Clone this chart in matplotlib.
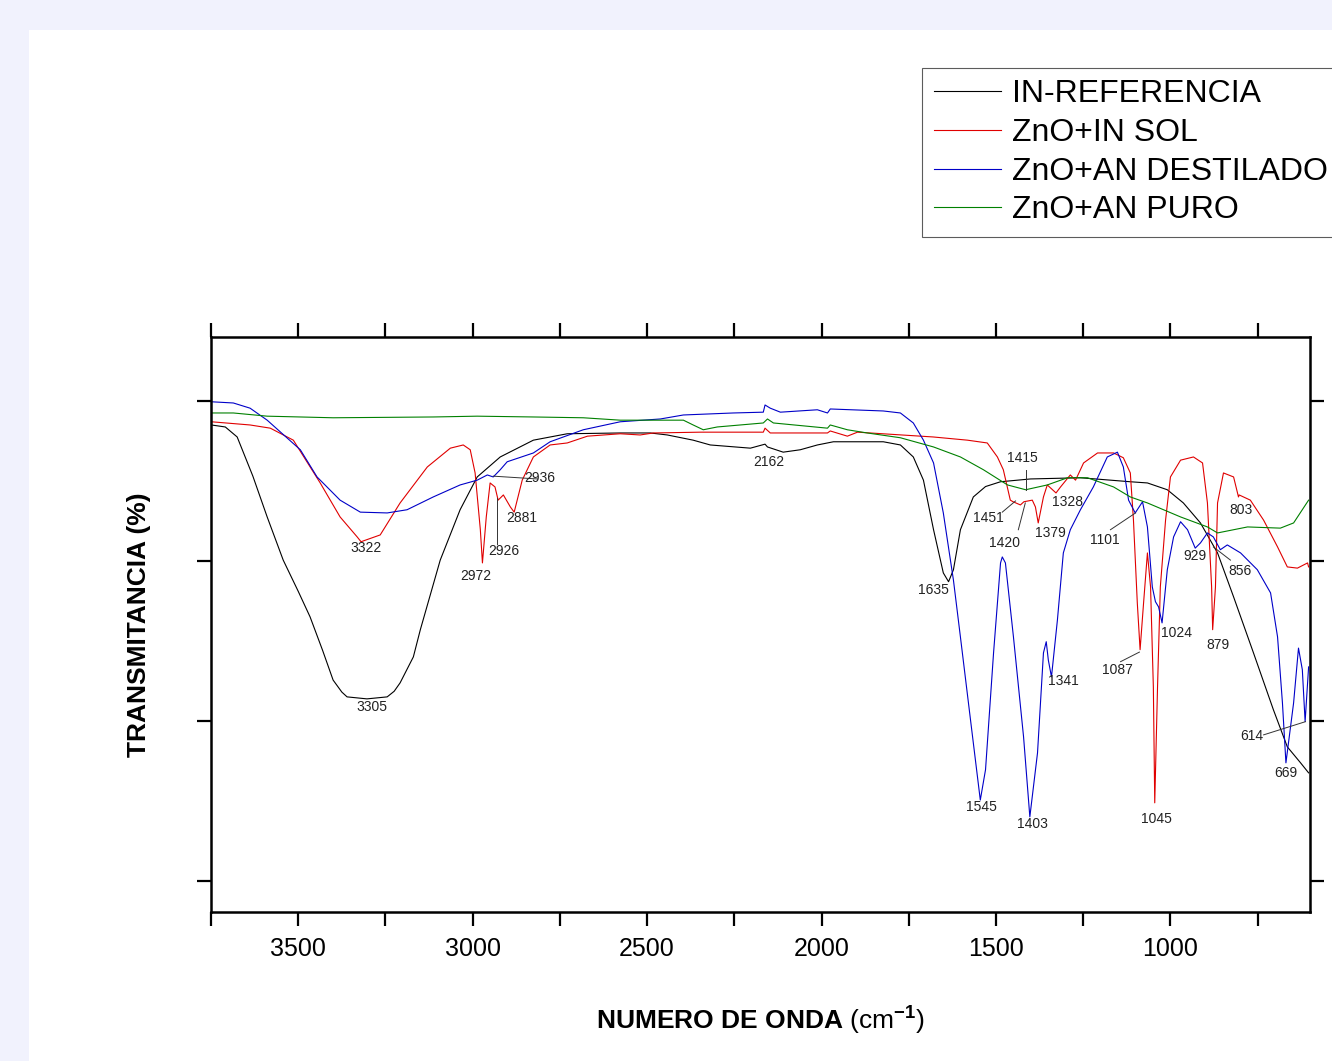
import matplotlib
matplotlib.use('Agg')
import matplotlib.pyplot as plt
from matplotlib.patches import Rectangle
from matplotlib.ticker import MultipleLocator

plt.rcParams['font.family'] = ['Liberation Sans', 'DejaVu Sans']
plt.rcParams['mathtext.fontset'] = 'custom'
plt.rcParams['mathtext.rm'] = 'Liberation Sans'
plt.rcParams['mathtext.bf'] = 'Liberation Sans:bold'

# ── Data (wavenumber cm-1, transmittance arbitrary %) ────────────────────────
ref_wn = [3749, 3709, 3675, 3630, 3589, 3543, 3500, 3466, 3430, 3400, 3375, 3360,
          3303, 3245, 3225, 3208, 3170, 3150, 3093, 3036, 2987, 2921, 2826, 2729,
          2577, 2491, 2442, 2368, 2319, 2204, 2162, 2155, 2110, 2061, 2012, 1966,
          1823, 1774, 1737, 1708, 1679, 1651, 1636, 1622, 1602, 1565, 1530, 1487,
          1401, 1258, 1115, 1066, 1009, 963, 914, 865, 819, 762, 705, 665, 627, 604]
ref_t = [57.0, 56.75, 55.5, 50.6, 45.5, 40.1, 36.2, 33.0, 28.8, 25.1, 23.6, 23.0,
         22.75, 23.0, 23.7, 24.75, 28.0, 31.4, 40.1, 46.4, 50.5, 53.0, 55.1, 55.9,
         56.0, 56.0, 55.75, 55.1, 54.5, 54.1, 54.6, 54.25, 53.6, 53.9, 54.5, 54.9,
         54.9, 54.5, 53.0, 50.1, 43.9, 38.5, 37.4, 38.9, 43.9, 48.0, 49.3, 49.9,
         50.25, 50.4, 49.9, 49.75, 48.9, 47.25, 44.75, 41.0, 35.5, 28.5, 21.4, 16.75,
         14.75, 13.5]

sol_wn = [3749, 3638, 3580, 3514, 3437, 3380, 3331, 3320, 3265, 3208, 3130, 3064,
          3027, 3007, 2993, 2978, 2972, 2961, 2950, 2936, 2927, 2912, 2892, 2881,
          2858, 2826, 2778, 2729, 2671, 2577, 2520, 2482, 2347, 2167, 2162, 2147,
          1983, 1975, 1926, 1897, 1680, 1582, 1525, 1496, 1479, 1459, 1451, 1430,
          1420, 1396, 1387, 1379, 1364, 1353, 1328, 1315, 1287, 1272, 1249, 1209,
          1163, 1135, 1115, 1106, 1095, 1087, 1077, 1066, 1057, 1049, 1045, 1037,
          1029, 1014, 1000, 971, 934, 908, 894, 882, 879, 871, 865, 848, 819, 805,
          803, 771, 733, 693, 665, 636, 607, 604]
sol_t = [57.4, 57.0, 56.6, 55.1, 49.75, 45.5, 43.0, 42.4, 43.25, 47.25, 51.75, 54.1,
         54.5, 53.9, 51.0, 43.9, 39.75, 45.5, 49.75, 49.25, 47.6, 48.25, 46.75, 46.1,
         50.1, 53.0, 54.5, 54.75, 55.6, 55.9, 55.75, 56.0, 56.1, 56.1, 56.6, 56.0,
         56.0, 56.25, 55.6, 56.1, 55.5, 55.1, 54.75, 53.0, 51.4, 47.6, 47.4, 47.0,
         47.4, 47.6, 46.75, 44.75, 48.0, 49.5, 48.5, 49.25, 50.75, 50.1, 52.25, 53.5,
         53.5, 52.9, 51.0, 45.1, 34.75, 28.9, 34.75, 41.0, 36.75, 24.25, 9.75, 24.25,
         36.75, 45.1, 50.5, 52.6, 53.0, 52.25, 47.25, 36.75, 31.4, 36.75, 47.25, 51.0,
         50.5, 48.0, 48.25, 47.6, 45.1, 41.75, 39.25, 39.1, 39.75, 39.25]

des_wn = [3749, 3686, 3638, 3589, 3494, 3446, 3380, 3322, 3245, 3188, 3113, 3036,
          2987, 2958, 2941, 2921, 2901, 2826, 2778, 2683, 2577, 2462, 2396, 2253,
          2167, 2162, 2147, 2118, 2012, 1983, 1975, 1823, 1774, 1737, 1708, 1679,
          1651, 1622, 1602, 1573, 1545, 1530, 1507, 1487, 1482, 1473, 1450, 1421,
          1403, 1381, 1364, 1356, 1350, 1341, 1324, 1307, 1287, 1258, 1221, 1181,
          1152, 1135, 1120, 1101, 1080, 1066, 1052, 1043, 1034, 1024, 1009, 991,
          971, 951, 929, 914, 894, 877, 857, 837, 799, 751, 713, 693, 679, 669,
          647, 633, 622, 614, 604]
des_t = [59.9, 59.75, 59.1, 57.6, 53.9, 50.5, 47.6, 46.1, 46.0, 46.4, 48.0, 49.5,
         50.1, 50.75, 50.5, 51.4, 52.4, 53.5, 54.9, 56.4, 57.4, 57.75, 58.25, 58.5,
         58.6, 59.5, 59.1, 58.6, 58.9, 58.5, 59.0, 58.75, 58.5, 57.25, 55.1, 52.25,
         46.0, 37.6, 30.5, 20.1, 10.1, 13.9, 28.5, 39.75, 40.5, 39.75, 30.5, 18.0,
         8.0, 16.0, 28.5, 29.9, 27.6, 25.5, 32.6, 41.0, 43.9, 46.4, 49.25, 53.0,
         53.6, 51.75, 47.6, 46.0, 47.4, 44.25, 36.75, 34.9, 34.25, 32.25, 38.9, 43.0,
         44.9, 43.9, 41.6, 42.25, 43.5, 43.0, 41.4, 42.0, 41.0, 38.9, 36.0, 30.5,
         22.25, 14.75, 22.25, 29.1, 26.4, 19.9, 26.75]

puro_wn = [3749, 3686, 3589, 3400, 3113, 2987, 2826, 2683, 2577, 2396, 2368, 2339,
           2299, 2167, 2155, 2138, 1983, 1975, 1926, 1869, 1774, 1679, 1602, 1536,
           1467, 1415, 1353, 1295, 1238, 1163, 1115, 1066, 971, 894, 865, 779, 685,
           647, 604]
puro_t = [58.5, 58.5, 58.1, 57.9, 58.0, 58.1, 58.0, 57.9, 57.6, 57.6, 57.0, 56.4,
          56.75, 57.25, 57.75, 57.25, 56.6, 57.0, 56.4, 56.0, 55.4, 54.25, 53.0, 51.4,
          49.5, 48.9, 49.5, 50.4, 50.4, 49.25, 48.0, 47.25, 45.5, 44.25, 43.5, 44.25,
          44.1, 44.75, 47.6]

series_names = ['IN-REFERENCIA', 'ZnO+IN SOL', 'ZnO+AN DESTILADO', 'ZnO+AN PURO']
series_colors = ['#000000', '#e00000', '#0000c8', '#008000']

# peak labels: text, wavenumber, transmittance
peak_labels = ['3305', '3322', '2972', '2926', '2881', '2936', '2162', '1635',
               '1545', '1403', '1415', '1451', '1420', '1379', '1328', '1341',
               '1101', '1087', '1045', '1024', '879', '929', '856', '803', '614', '669']
peak_wn = [3288, 3305, 2990, 2912, 2858, 2808, 2152, 1680,
           1542, 1396, 1424, 1523, 1476, 1344, 1295, 1307,
           1189, 1152, 1040, 983, 865, 931, 802, 799, 768, 670]
peak_t = [21.75, 41.6, 38.1, 41.25, 45.4, 50.4, 52.4, 36.4,
          9.25, 7.1, 52.9, 45.4, 42.25, 43.5, 47.4, 25.0,
          42.6, 26.4, 7.75, 31.0, 29.5, 40.6, 38.75, 46.4, 18.1, 13.5]

# leader lines: (x0, y0, x1, y1)
leaders = [(2929, 47.9, 2929, 42.1), (2941, 50.6, 2815, 50.25),
           (1413, 51.4, 1413, 48.9), (1482, 46.1, 1444, 47.5),
           (1436, 43.9, 1416, 47.25), (1172, 43.9, 1100, 46.0),
           (1143, 27.4, 1089, 28.6), (877, 41.75, 828, 40.1),
           (733, 18.25, 613, 19.9)]

# ── Figure ───────────────────────────────────────────────────────────────────
W, H = 1332, 1061
fig = plt.figure(figsize=(W / 100, H / 100), dpi=100)
fig.patch.set_facecolor('#f1f2fd')
fig.patches.append(Rectangle((29 / W, 0), 1 - 29 / W, 1 - 30 / H,
                             transform=fig.transFigure, facecolor='white',
                             edgecolor='none', zorder=-10))

ax = fig.add_axes([211 / W, 1 - 912 / H, (1310 - 211) / W, (912 - 337) / H])

for wn, t, name, col in zip([ref_wn, sol_wn, des_wn, puro_wn],
                            [ref_t, sol_t, des_t, puro_t],
                            series_names, series_colors):
    ax.plot(wn, t, color=col, linewidth=0.8, label=name)

for txt, x, y in zip(peak_labels, peak_wn, peak_t):
    ax.text(x, y, txt, ha='center', va='center', fontsize=10, color='#222222')

for x0, y0, x1, y1 in leaders:
    ax.plot([x0, x1], [y0, y1], color='#333333', linewidth=0.7)

ax.set_xlim(3750, 600)
ax.set_ylim(-3.9, 68)

ax.xaxis.set_major_locator(MultipleLocator(500))
ax.xaxis.set_minor_locator(MultipleLocator(250))
ax.set_yticks([0, 20, 40, 60])
ax.set_yticklabels([])

ax.tick_params(axis='both', which='both', direction='out', width=1.6,
               length=10, top=True, right=True, labeltop=False, labelright=False)
ax.tick_params(axis='x', which='major', labelsize=18, pad=8)

for sp in ax.spines.values():
    sp.set_linewidth(1.8)

ax.set_xlabel(r'NUMERO DE ONDA $\mathrm{(cm}^{\mathbf{-1}}\mathrm{)}$', fontsize=19,
              fontweight='bold', labelpad=30)
ax.set_ylabel('TRANSMITANCIA (%)', fontsize=19, fontweight='bold', labelpad=30)

leg = fig.legend(loc='upper left', bbox_to_anchor=(922 / W, 1 - 68 / H),
                 fontsize=23, frameon=True, fancybox=False, handlelength=2.1,
                 handletextpad=0.35, borderpad=0.36, labelspacing=0.27,
                 borderaxespad=0)
leg.get_frame().set_edgecolor('#333333')
leg.get_frame().set_linewidth(0.8)

fig.savefig('out.png', dpi=100, facecolor=fig.get_facecolor())
